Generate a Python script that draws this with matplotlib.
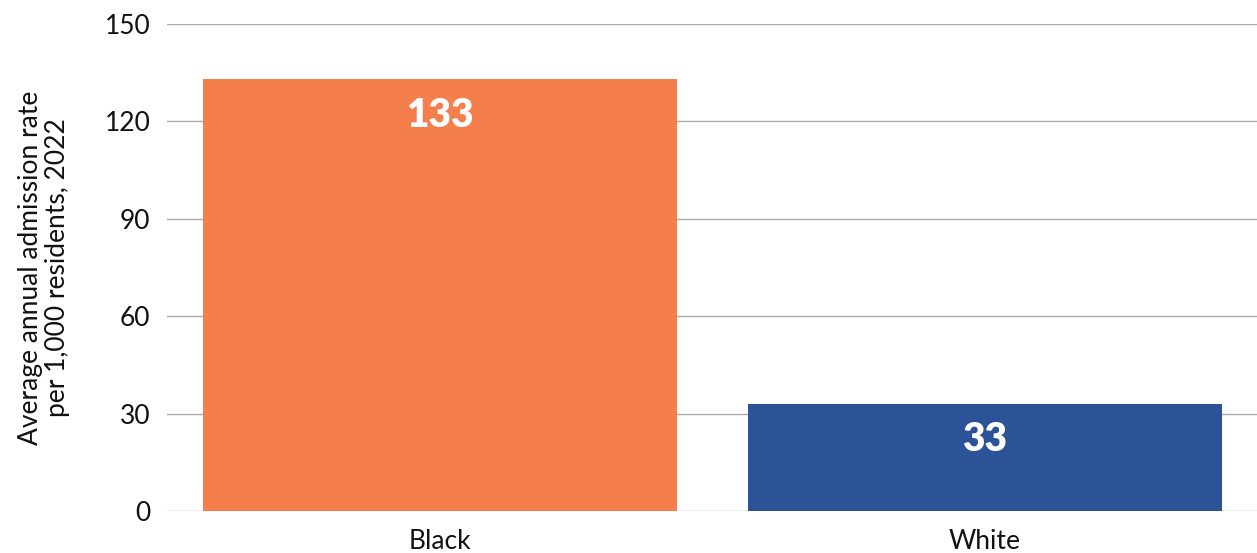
import matplotlib.pyplot as plt

categories = ['Black', 'White']
rates = [133, 33]
bar_colors = ['#f47f4d', '#2c5398']
y_ticks = [0, 30, 60, 90, 120, 150]

plt.rcParams['font.family'] = ['Lato', 'DejaVu Sans']

fig = plt.figure(figsize=(12.57, 5.53), dpi=100)
ax = fig.add_axes([0.133, 0.076, 0.867, 0.881])

x = range(len(categories))
bars = ax.bar(x, rates, width=0.87, color=bar_colors, zorder=3)

for b, v in zip(bars, rates):
    ax.annotate(str(v), (b.get_x() + b.get_width() / 2, v), xytext=(0, -26),
                textcoords='offset points', ha='center', va='center',
                color='white', fontsize=28, fontweight='heavy', zorder=4)

ax.set_xlim(-0.5, 1.5)
ax.set_ylim(0, 150)
ax.set_yticks(y_ticks)
ax.set_xticks(list(x))
ax.set_xticklabels(categories)
ax.tick_params(axis='both', length=0, labelsize=19, colors='#111111')
ax.tick_params(axis='y', pad=12)
ax.tick_params(axis='x', pad=13)
ax.yaxis.grid(True, color='#aaaaaa', linewidth=1, zorder=0)
for s in ax.spines.values():
    s.set_visible(False)

ax.set_ylabel('Average annual admission rate\nper 1,000 residents, 2022',
              fontsize=19, color='#111111', labelpad=25, linespacing=1.1)

fig.savefig('out.png', dpi=100)
